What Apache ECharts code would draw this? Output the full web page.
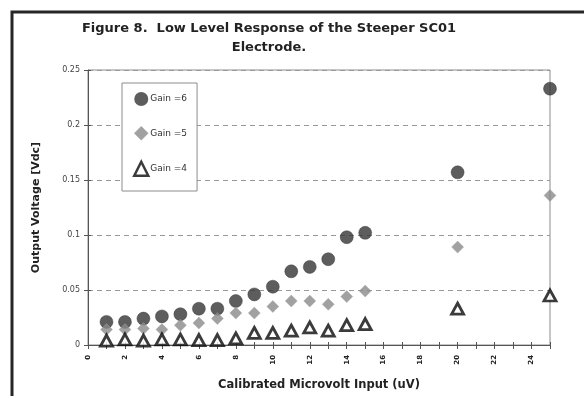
<!DOCTYPE html>
<html>
<head>
<meta charset="utf-8">
<script src="https://cdn.jsdelivr.net/npm/echarts@6/dist/echarts.min.js"></script>
<style>
  html, body { margin: 0; padding: 0; background: #fff; }
  #chart { width: 584px; height: 396px; }
</style>
</head>
<body>
<div id="chart"></div>
<script>
// Calibrated microvolt input (uV)
const inputUV = [1, 2, 3, 4, 5, 6, 7, 8, 9, 10, 11, 12, 13, 14, 15, 20, 25];

// Output voltage for each gain setting
const gain6 = [0.021, 0.021, 0.024, 0.026, 0.028, 0.033, 0.033, 0.040, 0.046, 0.053,
               0.067, 0.071, 0.078, 0.098, 0.102, 0.157, 0.233];
const gain5 = [0.014, 0.014, 0.015, 0.014, 0.018, 0.020, 0.024, 0.029, 0.029, 0.035,
               0.040, 0.040, 0.037, 0.044, 0.049, 0.089, 0.136];
const gain4 = [0.004, 0.005, 0.004, 0.005, 0.005, 0.0045, 0.0045, 0.006, 0.011, 0.011,
               0.013, 0.016, 0.013, 0.018, 0.019, 0.033, 0.045];

const seriesNames = ['Gain =6', 'Gain =5', 'Gain =4'];
const yTicks = [0, 0.05, 0.1, 0.15, 0.2, 0.25];

const pairs = (ys) => inputUV.map((x, i) => [x, ys[i]]);

const chart = echarts.init(document.getElementById('chart'), null, { renderer: 'canvas' });

const font = 'DejaVu Sans, Verdana, sans-serif';

// Marker styles shared by the series and their legend entries
const styleG6 = { color: '#353535', borderColor: '#2a2a2a', borderWidth: 0.5 };
const styleG5 = { color: '#8a8a8a', borderColor: '#a5a5a5', borderWidth: 0.5 };
const styleG4 = { color: '#fff', borderColor: '#0a0a0a', borderWidth: 2.8 };

chart.setOption({
  backgroundColor: '#fff',
  animation: false,
  graphic: [
    { type: 'rect', shape: { x: 12, y: 12, width: 620, height: 420 },
      style: { fill: 'none', stroke: '#262626', lineWidth: 3 }, z: 0 },
    { type: 'text', x: 269, y: 19,
      style: { text: 'Figure 8.  Low Level Response of the Steeper SC01\nElectrode.',
               textAlign: 'center', textVerticalAlign: 'top',
               font: 'bold 13px ' + font, fill: '#222', lineHeight: 19 } }
  ],
  grid: { left: 88, right: 34, top: 70, bottom: 51, show: true,
          borderColor: '#8c8c8c', borderWidth: 1, backgroundColor: '#fff' },
  legend: {
    orient: 'vertical', left: 122, top: 83,
    backgroundColor: '#fff', borderColor: '#8c8c8c', borderWidth: 1,
    padding: [9, 10, 14, 11], itemGap: 20, itemWidth: 14, itemHeight: 14,
    textStyle: { fontFamily: font, fontSize: 9, color: '#333', padding: [0, 0, 0, -3] },
    data: [
      { name: seriesNames[0], icon: 'circle', itemStyle: { color: '#353535', borderWidth: 0 } },
      { name: seriesNames[1], icon: 'diamond', itemStyle: { color: '#8a8a8a', borderColor: '#a5a5a5', borderWidth: 0.5 } },
      { name: seriesNames[2], icon: 'triangle', itemStyle: { color: '#fff', borderColor: '#0a0a0a', borderWidth: 2.5 } }
    ]
  },
  xAxis: [
    {
      type: 'value', min: 0, max: 25, interval: 1,
      name: 'Calibrated Microvolt Input (uV)', nameLocation: 'middle', nameGap: 34,
      nameTextStyle: { fontFamily: font, fontSize: 11.5, fontWeight: 'bold', color: '#222' },
      axisLine: { show: true, lineStyle: { color: '#555', width: 1 } },
      axisTick: { show: true, length: 4, lineStyle: { color: '#555' } },
      axisLabel: { rotate: 90, margin: 10, fontFamily: font, fontSize: 7, fontWeight: 'bold', color: '#222',
                   formatter: (v) => (v % 2 === 0 && v <= 24 ? String(v) : '') },
      splitLine: { show: false }
    },
    {
      type: 'value', min: 0, max: 25, interval: 1, position: 'bottom',
      axisLine: { show: false },
      axisTick: { show: true, inside: true, length: 3, lineStyle: { color: '#555' } },
      axisLabel: { show: false }, splitLine: { show: false }
    }
  ],
  yAxis: [
    {
      type: 'value', min: yTicks[0], max: yTicks[yTicks.length - 1], interval: 0.05,
      name: 'Output Voltage [Vdc]', nameLocation: 'middle', nameGap: 46, nameRotate: 90,
      nameTextStyle: { fontFamily: font, fontSize: 11, fontWeight: 'bold', color: '#222' },
      axisLine: { show: true, lineStyle: { color: '#555', width: 1 } },
      axisTick: { show: true, length: 4, lineStyle: { color: '#555' } },
      axisLabel: { margin: 8, fontFamily: font, fontSize: 8, color: '#444',
                   formatter: (v) => String(+v.toFixed(2)) },
      splitLine: { show: true, lineStyle: { color: '#999', type: [5, 4], width: 1 } }
    },
    {
      type: 'value', min: 0, max: 0.25, interval: 0.05, position: 'left',
      axisLine: { show: false },
      axisTick: { show: true, inside: true, length: 3, lineStyle: { color: '#555' } },
      axisLabel: { show: false }, splitLine: { show: false }
    }
  ],
  series: [
    {
      name: seriesNames[0], type: 'scatter', data: pairs(gain6),
      symbol: 'circle', symbolSize: 13, itemStyle: styleG6, z: 3
    },
    {
      name: seriesNames[1], type: 'scatter', data: pairs(gain5),
      symbol: 'diamond', symbolSize: 12, itemStyle: styleG5, z: 4
    },
    {
      name: seriesNames[2], type: 'scatter', data: pairs(gain4),
      symbol: 'triangle', symbolSize: [12, 11], itemStyle: styleG4, z: 5
    }
  ]
});
</script>
</body>
</html>
